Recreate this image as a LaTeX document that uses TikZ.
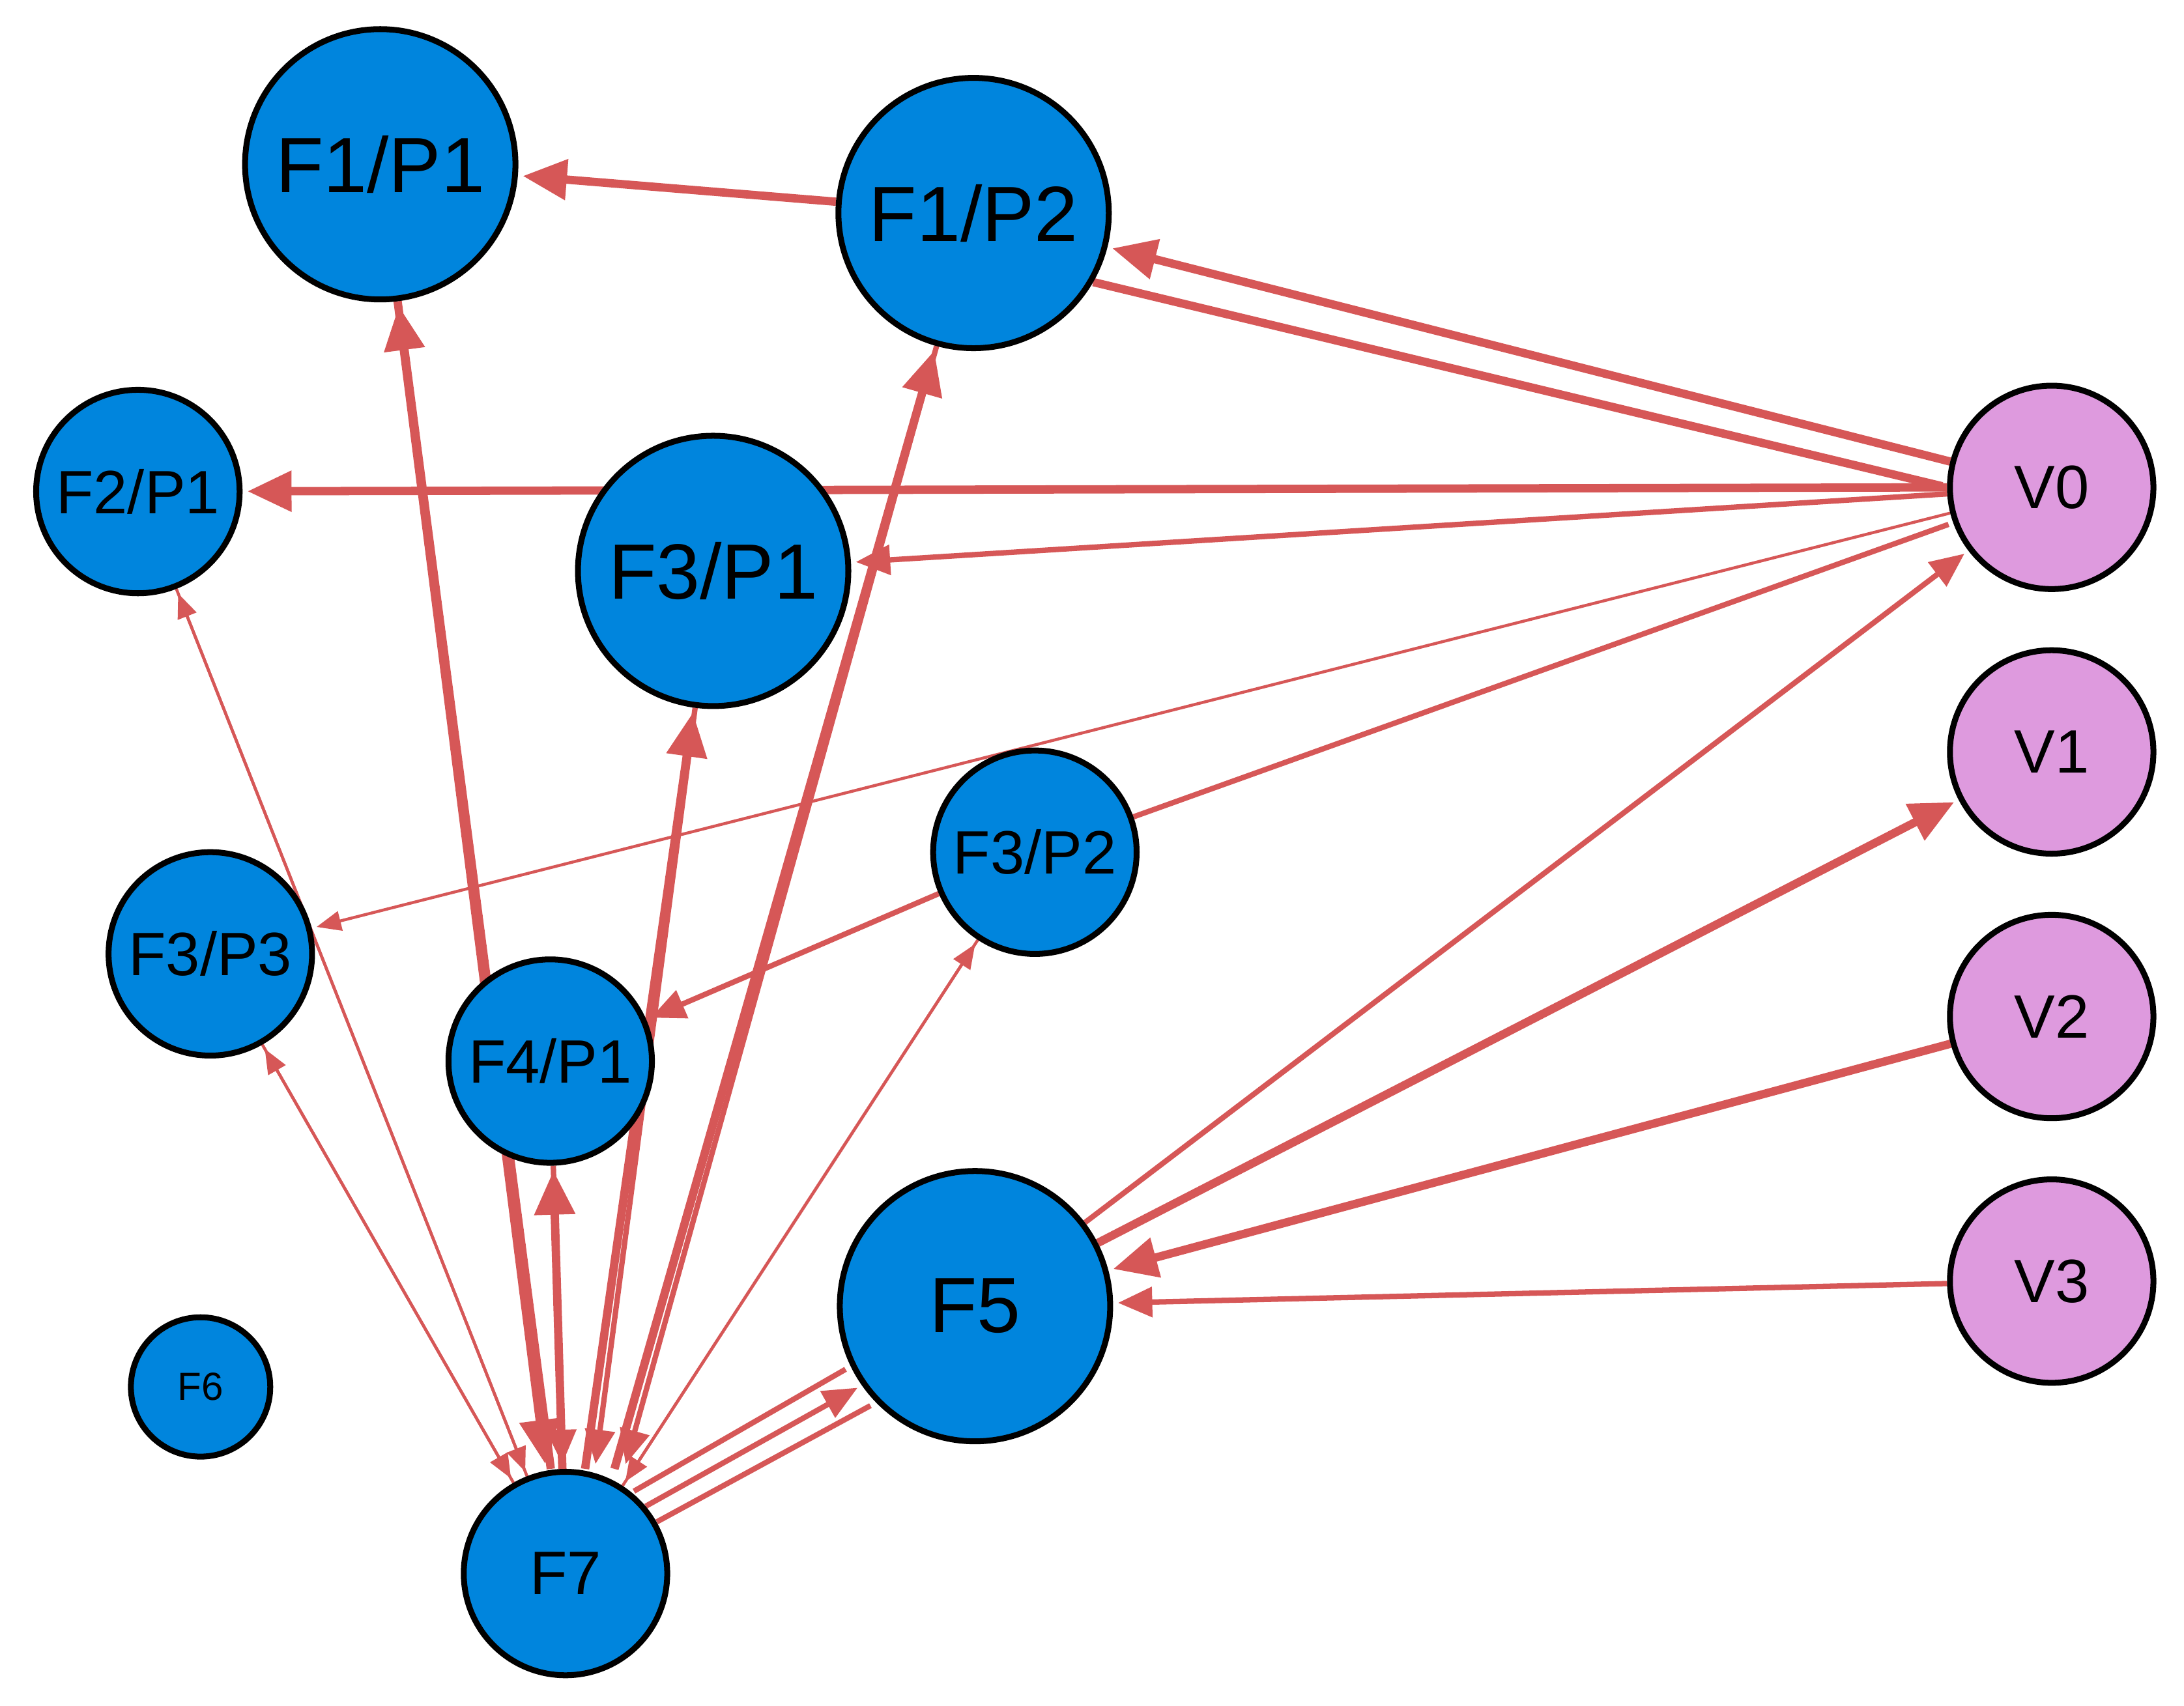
\documentclass[tikz,border=0pt]{standalone}
\usepackage{fontspec}
\setmainfont{Liberation Sans}
\usetikzlibrary{arrows.meta,backgrounds}
\definecolor{ed}{HTML}{D65757}
\definecolor{bl}{HTML}{0085DD}
\definecolor{pk}{HTML}{DE9ADE}
\begin{document}
\begin{tikzpicture}[x=0.01cm,y=-0.01cm,
  n/.style={circle,draw=black,line width=1.2pt,fill=bl,inner sep=0pt},
  big/.style={n,minimum size=1.94cm,font=\fontsize{16}{16}\selectfont},
  mid/.style={n,minimum size=1.46cm,font=\fontsize{12.5}{12.5}\selectfont},
  v/.style={mid,fill=pk},
  e/.style={draw=ed,shorten >=1pt},
  th/.style={e,line width=1.7pt,-{Triangle[length=9pt,width=8pt]}},
  thp/.style={e,line width=1.7pt},
  md/.style={e,line width=1.1pt,-{Triangle[length=7pt,width=6pt]}},
  mdp/.style={e,line width=1.1pt},
  tn/.style={e,line width=0.6pt,-{Triangle[length=5pt,width=4pt]}}]
\useasboundingbox (0,0) rectangle (1568,1225);
\node[big] (f11) at (273,118) {F1/P1};
\node[big] (f12) at (699,153) {F1/P2};
\node[mid] (f21) at (99,353) {F2/P1};
\node[big] (f31) at (512,410) {F3/P1};
\node[v] (v0) at (1473,350) {V0};
\node[v] (v1) at (1473,540) {V1};
\node[v] (v2) at (1473,730) {V2};
\node[v] (v3) at (1473,920) {V3};
\node[mid] (f32) at (743,612) {F3/P2};
\node[mid] (f33) at (151,685) {F3/P3};
\node[mid] (f41) at (395,762) {F4/P1};
\node[big] (f5) at (700,938) {F5};
\node[n,minimum size=1.0cm,font=\fontsize{8}{8}\selectfont] (f6) at (144,996) {F6};
\node[mid] (f7) at (406,1130) {F7};
\begin{scope}[on background layer]
\draw[th] (f12) -- (f11);
\draw[th] (v0) -- (f12);
\draw[thp] (f12.-30) -- (v0.west);
\draw[th] (v0.west) -- (f21);
\draw[md] (v0) -- (f31);
\draw[tn] (v0) -- (f33);
\draw[mdp] (f32) -- (v0);
\draw[md] (f5) -- (v0);
\draw[th] (f5) -- (v1);
\draw[th] (v2) -- (f5);
\draw[md] (v3) -- (f5);
\draw[md] (f32) -- (f41);
% F7 fan
\draw[tn] (f7) -- (f21);
\draw[tn] (f21) -- (f7);
\draw[tn] (f7) -- (f33);
\draw[tn] (f33) -- (f7);
\draw[th] ([xshift=-3]f7.north) -- (f11);
\draw[th] (f11) -- ([xshift=-4]f7.north);
\draw[th] (f7) -- (f41);
\draw[md] (f41) -- (f7);
\draw[th] ([xshift=4]f7.north) -- (f31);
\draw[md] (f31) -- ([xshift=6]f7.north);
\draw[th] ([xshift=10]f7.north) -- (f12);
\draw[md] (f12) -- ([xshift=12]f7.north);
\draw[tn] (f7) -- (f32);
\draw[tn] (f32) -- (f7);
\draw[mdp] ([shift={(-4,-6)}]f7.45) -- ([shift={(-4,-6)}]f5.-150);
\draw[md] (f7.40) -- (f5.-145);
\draw[mdp] ([shift={(4,6)}]f7.35) -- ([shift={(4,6)}]f5.-140);
\end{scope}
\end{tikzpicture}
\end{document}
